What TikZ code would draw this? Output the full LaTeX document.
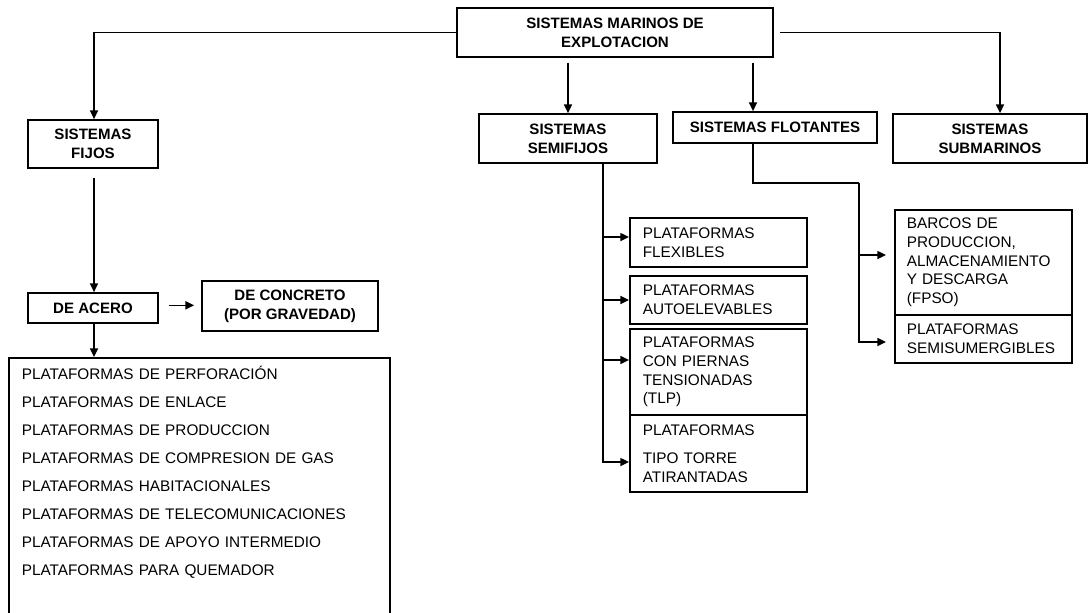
\documentclass[tikz,border=0pt]{standalone}
\usepackage{fontspec}
\setmainfont{Liberation Sans}
\usetikzlibrary{arrows.meta, calc}
\tikzstyle{titlebox} = [rectangle, draw=black, line width=1.3pt, fill=white, align=center,
font=\fontsize{11.3}{14}\selectfont\bfseries, inner sep=2pt]
\tikzstyle{listbox} = [rectangle, draw=black, line width=1.2pt, fill=white, align=left,
font=\fontsize{11.5}{14}\selectfont, anchor=west, inner xsep=9.75pt, text width=113.25pt]
\tikzstyle{arrow} = [line width=1.15pt, -{Triangle[length=6.5pt,width=6pt]}]
\tikzstyle{line} = [line width=1.15pt, -]

\begin{document}
\begin{tikzpicture}[x=0.75pt, y=-0.75pt]

        % \draw[help lines] (0,0) grid (1089,613);
        \clip (0,0) rectangle (1089,613);

        \node (marinos) [titlebox, minimum width=237pt, minimum height=36.75pt] at (615,32.5) {SISTEMAS MARINOS DE\\ EXPLOTACION};

        \node (fijos) [titlebox, minimum width=97.5pt, minimum height=36pt] at (93,144) {SISTEMAS\\ FIJOS};
        \node (acero) [titlebox, minimum width=97.5pt, minimum height=22.5pt] at (93,308) {DE ACERO};
        \node (concreto) [titlebox, minimum width=132pt, minimum height=37.5pt] at (290,306) {DE CONCRETO\\ (POR GRAVEDAD)};

        \node (semifijos) [titlebox, minimum width=133.5pt, minimum height=36.75pt] at (568,138.5) {SISTEMAS\\ SEMIFIJOS};
        \node (flotantes) [titlebox, minimum width=153pt, minimum height=23.25pt] at (775,127.5) {SISTEMAS FLOTANTES};
        \node (submarinos) [titlebox, minimum width=145.5pt, minimum height=36.75pt] at (990,138.5) {SISTEMAS\\ SUBMARINOS};

        % acero list, runs off the bottom of the page
        \node (lista) [listbox, anchor=north west, text width=266.25pt, inner ysep=0pt,
            text height=16.5pt, text depth=184.5pt, font=\fontsize{11.5}{21}\selectfont] at (8,357)
            {PLATAFORMAS DE PERFORACIÓN\\ PLATAFORMAS DE ENLACE\\ PLATAFORMAS DE PRODUCCION\\
             PLATAFORMAS DE COMPRESION DE GAS\\ PLATAFORMAS HABITACIONALES\\
             PLATAFORMAS DE TELECOMUNICACIONES\\ PLATAFORMAS DE APOYO INTERMEDIO\\
             PLATAFORMAS PARA QUEMADOR};

        \node (flex) [listbox, minimum height=36.75pt] at (629,242.5) {PLATAFORMAS\\ FLEXIBLES};
        \node (auto) [listbox, minimum height=36pt] at (629,300) {PLATAFORMAS\\ AUTOELEVABLES};
        \node (tlp) [listbox, minimum height=64.5pt] at (629,372) {PLATAFORMAS\\ CON PIERNAS\\ TENSIONADAS\\ (TLP)};
        \node (torre) [listbox, minimum height=57.75pt] at (629,453.5) {PLATAFORMAS\\[7pt] TIPO TORRE\\ ATIRANTADAS};

        \node (barcos) [listbox, minimum height=78.75pt, inner xsep=9pt, text width=114.75pt] at (894,262.5) {BARCOS DE\\ PRODUCCION,\\ ALMACENAMIENTO\\ Y DESCARGA\\ (FPSO)};
        \node (semisum) [listbox, minimum height=36pt, inner xsep=9pt, text width=114.75pt] at (894,339) {PLATAFORMAS\\ SEMISUMERGIBLES};

        \coordinate (F) at ([xshift=-16.5pt]flotantes.north);
        \coordinate (TS) at ([xshift=26.25pt]semifijos.south);
        \coordinate (TF) at ([xshift=-16.5pt]flotantes.south);
        \coordinate (K) at (859,183);

        \draw [arrow] (marinos.west) -| ([xshift=0.75pt]fijos.north);
        \draw [arrow] ([xshift=4.5pt]marinos.east) -| ([xshift=7.5pt]submarinos.north);
        \draw [arrow, shorten <=3.75pt] (marinos.south -| semifijos.north) -- (semifijos.north);
        \draw [arrow, shorten <=3.75pt] (marinos.south -| F) -- (F);

        \draw [arrow, shorten <=6.75pt] ([xshift=0.75pt]fijos.south) -- ([xshift=0.75pt]acero.north);
        \draw [arrow, shorten <=7.5pt, shorten >=5.25pt] ([yshift=2pt]acero.east) -- ([yshift=2pt]acero.east -| concreto.west);
        \draw [arrow] ([xshift=0.75pt]acero.south) -- ([xshift=0.75pt]acero.south |- lista.north);

        \draw [arrow] (TS) |- ([yshift=4.1pt]flex.west);
        \draw [arrow] (TS) |- (auto.west);
        \draw [arrow] (TS) |- ([yshift=9pt]tlp.west);
        \draw [arrow] (TS) |- ([yshift=-6.4pt]torre.west);

        \draw [line] (TF) |- (K);
        \draw [arrow, shorten >=6pt] (K) |- ([yshift=5.6pt]barcos.west);
        \draw [arrow, shorten >=6pt] (K) |- ([yshift=-2.25pt]semisum.west);

    \end{tikzpicture}
\end{document}
